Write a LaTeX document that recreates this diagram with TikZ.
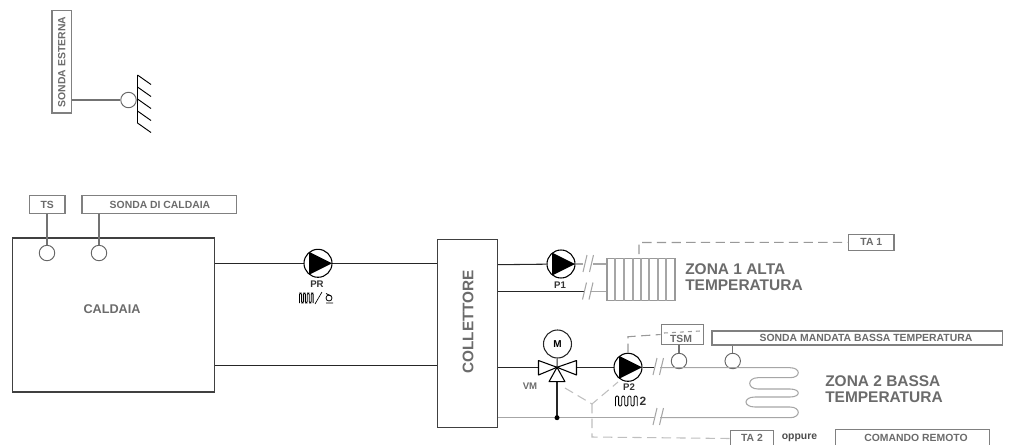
\documentclass[tikz,border=0pt]{standalone}
\usepackage{fontspec}
\setmainfont{Liberation Sans}
\definecolor{boxgray}{gray}{0.5}
\definecolor{txtgray}{gray}{0.42}
\tikzset{
  x=0.75pt,y=-0.75pt,
  gbox/.style={draw=boxgray,line width=0.9pt,inner sep=0pt},
  lbl/.style={font=\bfseries\fontsize{7.8pt}{8pt}\selectfont,text=txtgray,inner sep=0pt},
  small/.style={font=\bfseries\fontsize{7.2pt}{8pt}\selectfont,text=black!80,inner sep=0pt},
  big/.style={font=\bfseries\fontsize{11.6pt}{12pt}\selectfont,text=txtgray,inner sep=0pt,align=left},
  pipe/.style={draw=black!85,line width=0.8pt},
  gpipe/.style={draw=boxgray!70,line width=0.8pt},
  dashln/.style={draw=boxgray!80,line width=0.8pt,dash pattern=on 7pt off 4pt},
  sens/.style={circle,draw=black!60,line width=0.7pt,fill=white,minimum size=11.6pt,inner sep=0pt},
  pumpc/.style={circle,draw=black,line width=0.8pt,fill=white,minimum size=21pt,inner sep=0pt},
}
\newcommand{\pumpfig}[3]{%
  \node[pumpc] (#3) at (#1,#2) {};
  \fill[black] (#1-9,#2-11.5) -- (#1+14,#2) -- (#1-9,#2+11.5) -- cycle;
}
\newcommand{\slashes}[2]{%
  \draw[gpipe] (#1,#2+8) -- (#1+4,#2-9) (#1+6.5,#2+8) -- (#1+10.5,#2-9);
}
\newcommand{\wavy}[3]{%
  \draw[black,line width=0.65pt,rounded corners=0.9pt] (#1,#2+5)
  -- ++(0,-10) -- ++(#3,0) -- ++(0,10) -- ++(#3,0)
  -- ++(0,-10) -- ++(#3,0) -- ++(0,10) -- ++(#3,0)
  -- ++(0,-10) -- ++(#3,0) -- ++(0,10) -- ++(#3,0)
  -- ++(0,-10) -- ++(#3,0) -- ++(0,10);
}
\begin{document}
\begin{tikzpicture}
\useasboundingbox (0,0) rectangle (1011,444);
% sonda esterna
\node[gbox,minimum width=14.6pt,minimum height=77pt] (se) at (61.7,61.7) {};
\node[lbl,rotate=90] (setxt) at (61.7,62) {SONDA ESTERNA};
\node[sens] (sec) at (128.5,100) {};
\draw[draw=black!55,line width=0.8pt] (se.east |- sec) -- (sec);
\draw[black,line width=0.7pt] (137.5,75) -- (137.5,123);
\foreach \y in {75,87,99,111,123} \draw[black,line width=0.7pt] (137.5,\y) -- (151,\y+9.5);
% caldaia
\node[draw=black!75,line width=0.8pt,minimum width=151.7pt,minimum height=115.5pt,inner sep=0pt] (cald) at (113.8,315) {};
\node[font=\bfseries\fontsize{9.5pt}{10pt}\selectfont,text=txtgray,inner sep=0pt] (caldt) at (112,309) {CALDAIA};
\node[gbox,minimum width=26.6pt,minimum height=13pt] (ts) at (47.2,204.5) {};
\node[lbl] (tst) at (47.2,204.5) {TS};
\node[gbox,minimum width=116pt,minimum height=13pt] (sc) at (159.3,204.5) {};
\node[lbl] (sct) at (160,204.5) {SONDA DI CALDAIA};
\node[sens] (c1) at (47,253) {};
\node[sens] (c2) at (99,253) {};
\draw[draw=black!55,line width=0.8pt] (ts.south -| c1) -- (c1);
\draw[draw=black!55,line width=0.8pt] (sc.south -| c2) -- (c2);
% collettore
\node[draw=black!75,line width=0.8pt,minimum width=45pt,minimum height=141.3pt,inner sep=0pt] (coll) at (467.7,333.5) {};
\node[font=\bfseries\fontsize{11.5pt}{12pt}\selectfont,text=txtgray,rotate=90,inner sep=0pt] (collt) at (468,321.7) {COLLETTORE};
% PR
\coordinate (a1) at (cald.east |- 0,263.3);
\coordinate (a2) at (coll.west |- 0,263.3);
\draw[pipe] (a1) -- (a2);
\coordinate (b1) at (cald.east |- 0,365.7);
\coordinate (b2) at (coll.west |- 0,365.7);
\draw[pipe] (b1) -- (b2);
\pumpfig{318}{263.3}{pr}
\node[small] (prt) at (317,284) {PR};
\wavy{299.5}{298}{1.95}
\draw[black,line width=0.5pt] (315,304) -- (322,292);
\draw[black,line width=0.6pt] (329,298) circle[radius=3];
\draw[black,line width=0.6pt] (326,293.5) -- (331,296) (326,303) -- (333,303);
% P1
\coordinate (c0) at (coll.east |- 0,264.7);
\pumpfig{561}{264}{p1}
\draw[pipe] (c0) -- (p1);
\node[small] (p1t) at (560,285) {P1};
\node[draw=boxgray!80,line width=0.8pt,minimum width=51pt,minimum height=32pt,inner sep=0pt] (rad) at (641,279.4) {};
\foreach \x in {615,624,633,641,649,658,666} \draw[gpipe] (\x,258) -- (\x,300.7);
\draw[gpipe] (p1) -- (583,264) (593,264) -- (rad.west |- p1);
\slashes{583}{264}
\coordinate (d0) at (coll.east |- 0,291.3);
\draw[pipe] (d0) -- (584,291.3);
\draw[gpipe] (590,291.3) -- (rad.west |- d0);
\slashes{582.5}{291.5}
\node[big,anchor=north west] (z1) at (685,263.5) {ZONA 1 ALTA\\TEMPERATURA};
% TA 1
\node[gbox,minimum width=34pt,minimum height=12pt] (ta1) at (871.3,242.3) {};
\node[lbl] (ta1t) at (871.3,242.3) {TA 1};
\draw[dashln] (639,254) -- (639,242.5) -- (ta1.west);
% zona 2
\node[gbox,minimum width=218pt,minimum height=10.5pt] (sm) at (857.3,338) {};
\node[lbl] (smt) at (866,338) {SONDA MANDATA BASSA TEMPERATURA};
\node[gbox,minimum width=32pt,minimum height=14.5pt] (tsm) at (682.5,334.5) {};
\node[lbl] (tsmt) at (681,339) {TSM};
\node[sens] (c3) at (679,361) {};
\node[sens] (c4) at (732.7,361) {};
\draw[draw=black!55,line width=0.8pt] (tsm.south -| c3) -- (c3);
\draw[draw=black!55,line width=0.8pt] (sm.south -| c4) -- (c4);
\node[draw=black!85,circle,line width=0.8pt,minimum size=21pt,inner sep=0pt,font=\bfseries\fontsize{7.5pt}{8pt}\selectfont] (m) at (557.5,344) {M};
\coordinate (e0) at (coll.east |- 0,367.3);
\draw[pipe] (e0) -- (538.5,367.3);
\draw[pipe] (576.5,367.3) -- (620,367.3);
\draw[pipe] (557,367.3) -- (557,417.7);
\draw[pipe] (m) -- (557,367.3);
\draw[black,line width=0.8pt,fill=white,line join=round] (538.5,360.5) -- (557,367.3) -- (538.5,375) -- cycle;
\draw[black,line width=0.8pt,fill=white,line join=round] (576.5,360.5) -- (557,367.3) -- (576.5,375) -- cycle;
\draw[black,line width=0.8pt,fill=white,line join=round] (557,367.3) -- (549,381.7) -- (565,381.7) -- cycle;
\node[small,text=txtgray] (vm) at (530,386.5) {VM};
\pumpfig{628}{367.3}{p2}
\draw[pipe] (p2) -- (654,367.3);
\node[small] (p2t) at (629,387) {P2};
\wavy{615.5}{401}{3.1}
\node[font=\bfseries\fontsize{9pt}{9pt}\selectfont,inner sep=0pt,text=black!80] (p22) at (643,401) {2};
\coordinate (f0) at (coll.east |- 0,417.7);
\draw[gpipe] (f0) -- (654,417.7);
\fill[black] (557,417.7) circle[radius=2.5];
\draw[gpipe] (660,367.7) -- (790,367.7)
  .. controls (801,367.7) and (801,377.7) .. (790,377.7) -- (758,377.7)
  .. controls (747,377.7) and (747,389) .. (758,389) -- (790,389)
  .. controls (801,389) and (801,397) .. (790,397) -- (755,397)
  .. controls (743,397) and (743,407) .. (755,407) -- (790,407)
  .. controls (801,407) and (801,417.7) .. (790,417.7) -- (660,417.7);
\slashes{653}{367}
\slashes{653}{417}
% TA2 etc.
\node[gbox,minimum width=32pt,minimum height=12pt] (ta2) at (752,438.5) {};
\node[lbl] (ta2t) at (752,437.5) {TA 2};
\node[lbl,text=black!70] (opp) at (799.5,438) {oppure};
\node[gbox,minimum width=116pt,minimum height=12pt] (cr) at (912.5,437.5) {};
\node[lbl] (crt) at (916,437.5) {COMANDO REMOTO};
\node[big,anchor=north west] (z2) at (825,375) {ZONA 2 BASSA\\TEMPERATURA};
% dashed
\coordinate (y) at (592,404);
\draw[dashln,draw=boxgray!50] (565,388) -- (y) -- (618,382);
\draw[dashln,draw=boxgray!50] (y) -- (592,437) -- (ta2.west);
\draw[dashln] (628,353) -- (628,336.7) -- (tsm.west);
\draw[dashln,dash pattern=on 3pt off 3pt] (664,333) -- (700,331);
\end{tikzpicture}
\end{document}
